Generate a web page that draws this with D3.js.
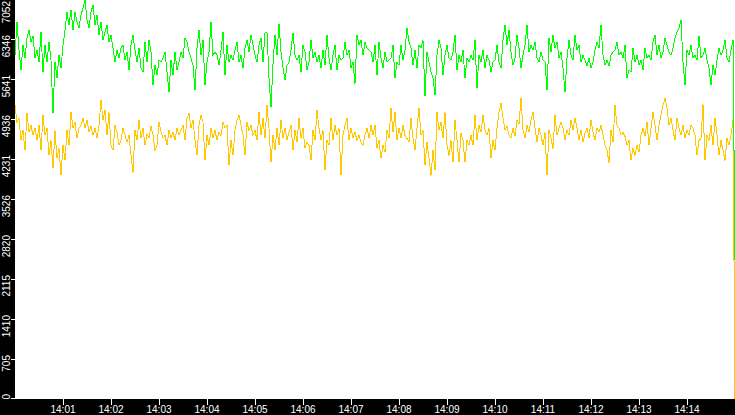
<!DOCTYPE html>
<html>
<head>
<meta charset="utf-8">
<script src="https://cdn.jsdelivr.net/npm/d3@7/dist/d3.min.js"></script>
<style>
	html,body{margin:0;padding:0;background:#000;overflow:hidden;}
	svg{display:block;}
	.tickLabel{font-family:"Liberation Sans",Arial,sans-serif;font-size:10px;fill:#fff;}
</style>
</head>
<body>
<div id="chart"></div>
<script>
// time span of the chart, one sample every 2.5 s
var start_label = "14:00";
var end_label = "14:15";
var sample_seconds = 2.5;
var y_max = 7052;
var y_tick_labels = ["0","705","1410","2115","2820","3526","4231","4936","5641","6346","7052"];
var x_tick_labels = ["14:01","14:02","14:03","14:04","14:05","14:06","14:07","14:08","14:09","14:10","14:11","14:12","14:13","14:14"];

var green_values = [
	6077,6662,6166,5812,6255,6024,6379,6520,6308,6414,
	6024,6166,5953,6485,5776,6255,5953,6308,5989,5050,
	5953,5670,6077,5847,6255,6520,6839,6609,6875,6520,
	6839,6662,6556,6786,6910,7052,6698,6556,6839,6963,
	6609,6786,6432,6662,6343,6485,6609,6308,6432,6201,
	5953,6166,6024,6201,6255,5989,6131,5812,6255,6432,
	6166,5953,6201,5847,5776,6308,5953,6343,6131,5546,
	5900,5723,5989,5953,6024,6131,5776,5422,5989,5723,
	6131,5812,5953,6131,6024,6379,6308,6131,6024,5900,
	5457,6201,6520,6077,6343,5546,5953,6131,6662,6077,
	6131,6077,5900,6166,6485,5723,6255,5953,6077,5989,
	6166,6308,5953,6077,5847,6201,6343,6131,6432,6255,
	6077,5953,6255,6379,5953,6467,6485,5670,5156,5918,
	6432,6077,6627,6131,5847,5634,5900,5953,6166,6467,
	6077,5989,6077,5776,6255,6131,5812,5953,6343,6024,
	6131,5953,6077,5847,6166,5900,6432,6024,5812,6077,
	6255,5812,6077,5989,6024,6308,6077,6166,5847,5953,
	5564,6432,6255,6343,6077,6308,6201,6166,6131,5953,
	6255,5723,6308,6024,5847,6131,5953,5989,6024,6255,
	5670,5953,5900,6255,5989,6166,6556,6308,6201,5900,
	6166,5847,6255,6201,6343,5351,6131,5953,5776,5670,
	5369,6077,6343,6201,5723,6077,6255,6024,5989,6131,
	6432,5812,6077,5953,6166,5670,6024,5953,6077,5989,
	6343,5493,6077,5953,6166,5847,6077,5989,5776,5953,
	5989,6255,5953,5847,6343,6609,6255,6520,6131,5900,
	6024,6432,6201,5847,6077,6255,6609,6131,6255,6166,
	6308,6024,5953,6131,5989,5953,5457,6379,6131,6432,
	6201,6308,6024,6131,5847,5422,6024,6343,6077,5989,
	6432,6166,6255,5953,6077,5989,5882,6024,5847,5953,
	6166,6308,6201,6609,6077,5900,5989,5882,6077,6131,
	6166,6308,6077,6131,6024,6255,5670,5812,5776,6201,
	5953,6077,5900,5989,5812,6201,6024,6077,5989,6308,
	6432,6077,6255,6024,6131,6379,6255,6131,6077,6201,
	6379,6485,6556,6698,5953,5546,6166,6077,6255,6024,
	6077,5989,6414,6024,6077,6201,5989,5847,5546,5900,
	5723,5989,6201,6077,6166,6343,6024,5953,6166,6343,
	2463
];

var yellow_values = [
	5191,4890,4961,4571,4748,4394,5050,4713,4837,4660,
	4784,4571,4837,4394,5014,4660,4784,4305,4571,4075,
	4748,4252,4429,3951,4483,4217,4748,4483,5067,4784,
	4890,4607,4784,4837,4961,4784,4926,4713,4819,4660,
	4784,4607,4837,5280,4926,5103,4660,5067,4483,4394,
	4837,4713,4483,4571,4784,4660,4536,4660,4305,4004,
	4748,4571,4926,4607,4784,4483,4677,4607,4819,4660,
	4394,4483,4890,4713,4607,4660,4483,4748,4607,4713,
	4571,4784,4660,4748,4837,4571,4961,5050,4784,4926,
	4571,4305,4837,5014,4890,4217,4660,4483,4784,4607,
	4748,4571,4713,4660,4890,4784,4837,4128,4571,4305,
	4748,4926,5014,4837,4660,4305,4890,4748,4837,4660,
	4748,4571,5067,4660,4961,4607,5191,4784,4181,4660,
	4394,4784,4483,4926,4607,4784,4571,4713,4837,4394,
	4748,4536,4961,4607,4784,4429,4536,4483,4217,4748,
	4571,5103,4784,4571,4748,4040,4571,4483,4961,4571,
	4837,4660,4784,3951,4660,4837,4961,4571,4784,4607,
	4713,4571,4660,4536,4483,4660,4784,4607,4837,4660,
	4837,4429,4571,4252,4483,4359,4748,4607,5138,4713,
	5067,4571,4784,4607,4837,4660,4607,4536,4961,4607,
	4394,4784,5138,4660,4748,4128,4536,4252,3951,4394,
	4040,5067,4748,4890,4607,5067,4483,4305,4571,4181,
	4926,4571,4181,4695,4571,4181,4571,4483,4660,4483,
	5014,4571,4837,4713,5014,4748,4660,4784,4252,4571,
	4394,4784,5067,5227,4961,4748,4819,4660,4607,4784,
	4642,4926,4855,5315,4748,4607,4837,4713,4926,5067,
	4784,4536,4784,4660,4483,4713,3951,4748,4607,4429,
	5014,4660,4784,4890,4784,4571,4748,4660,4926,4748,
	4961,4784,4571,4748,4536,4695,4784,4607,4926,4713,
	4571,4784,4713,4837,4660,4483,4394,4181,4748,4536,
	5191,4837,4784,4660,4713,4642,4483,4571,4217,4429,
	4305,4483,4359,4660,4784,4642,4890,4483,4784,5067,
	4837,4571,4837,5014,5191,5315,5138,4837,4961,4748,
	4571,4961,4784,4660,4837,4607,4748,4660,4837,4784,
	4660,4305,4571,4607,5209,4217,4660,4571,4837,4483,
	4961,4660,4305,4571,4394,4217,4607,4483,4660,4926,
	0
];

var width = 735, height = 415;
var plot_left = 15, plot_bottom = 399;

var parseTime = d3.timeParse("%H:%M");
var t0 = parseTime(start_label);
var t1 = parseTime(end_label);
function sampleTime(i){ return new Date(t0.getTime() + i*sample_seconds*1000); }

var svg = d3.select("#chart").append("svg")
	.attr("width",width)
	.attr("height",height);
svg.append("rect")
	.attr("width",width)
	.attr("height",height)
	.attr("fill","#000");
svg.append("rect")
	.attr("x",plot_left)
	.attr("y",0)
	.attr("width",width-plot_left)
	.attr("height",plot_bottom)
	.attr("fill","#fff");
svg.append("clipPath").attr("id","plotClip")
	.append("rect")
	.attr("x",plot_left).attr("y",0)
	.attr("width",width-plot_left).attr("height",plot_bottom);

var x = d3.scaleTime().domain([t0,t1]).range([plot_left,width]);
var y = d3.scaleLinear().domain([0,y_max]).range([plot_bottom,0]);

var line = d3.line()
	.x(function(d,i){return x(sampleTime(i));})
	.y(function(d){return y(d);});

var lines = svg.append("g").attr("clip-path","url(#plotClip)");
lines.append("path")
	.datum(yellow_values)
	.attr("d",line)
	.attr("fill","none")
	.attr("stroke","#ffc800")
	.attr("stroke-width",1)
	.attr("shape-rendering","crispEdges");
lines.append("path")
	.datum(green_values)
	.attr("d",line)
	.attr("fill","none")
	.attr("stroke","#00ff00")
	.attr("stroke-width",1)
	.attr("shape-rendering","crispEdges");

// y axis: ticks in steps of a tenth of the max, labels turned upright
var y_ticks = y_tick_labels.map(function(l,i){return {label:l,value:i*y_max/10};});
var yAxis = svg.append("g").classed("y_axis",true);
yAxis.selectAll("line").data(y_ticks).enter().append("line")
	.attr("x1",11).attr("x2",plot_left)
	.attr("y1",function(d){return Math.ceil(y(d.value))-0.5;})
	.attr("y2",function(d){return Math.ceil(y(d.value))-0.5;})
	.attr("stroke","#fff")
	.attr("shape-rendering","crispEdges");
yAxis.selectAll("text").data(y_ticks).enter().append("text")
	.classed("tickLabel",true)
	.attr("text-anchor","end")
	.attr("transform",function(d){
		var ty = Math.max(Math.ceil(y(d.value))-5,1);
		return "translate(10,"+ty+") rotate(-90)";
	})
	.text(function(d){return d.label;});

// x axis
var x_ticks = x_tick_labels.map(function(l){return {label:l,time:parseTime(l)};});
var xAxis = svg.append("g").classed("x_axis",true);
xAxis.selectAll("line").data(x_ticks).enter().append("line")
	.attr("x1",function(d){return Math.floor(x(d.time))+0.5;})
	.attr("x2",function(d){return Math.floor(x(d.time))+0.5;})
	.attr("y1",plot_bottom).attr("y2",plot_bottom+6)
	.attr("stroke","#fff")
	.attr("shape-rendering","crispEdges");
xAxis.selectAll("text").data(x_ticks).enter().append("text")
	.classed("tickLabel",true)
	.attr("text-anchor","middle")
	.attr("x",function(d){return x(d.time);})
	.attr("y",413)
	.text(function(d){return d.label;});
</script>
</body>
</html>
